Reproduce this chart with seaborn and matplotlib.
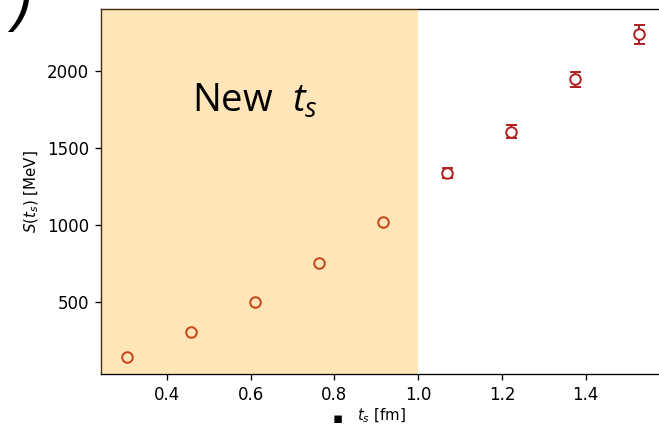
import matplotlib
matplotlib.use("Agg")
import matplotlib.pyplot as plt
import seaborn as sns
import numpy as np
import pandas as pd

# Source-time separations (fm) and the corresponding summed correlator values
ts_fm = [0.305, 0.458, 0.611, 0.764, 0.917, 1.069, 1.222, 1.375, 1.528]
S_mev = [143, 305, 500, 753, 1022, 1338, 1606, 1946, 2238]
S_err = [4, 5, 6, 8, 10, 34, 43, 50, 60]

x_ticks = [0.4, 0.6, 0.8, 1.0, 1.2, 1.4]
y_ticks = [500, 1000, 1500, 2000]
new_region_end = 1.0

sns.set_style("ticks", rc={
    "axes.edgecolor": "black",
    "xtick.color": "black",
    "ytick.color": "black",
    "text.color": "black",
    "axes.labelcolor": "black",
})
plt.rcParams["font.family"] = ["DejaVu Sans"]
plt.rcParams["mathtext.fontset"] = "dejavusans"
plt.rcParams["mathtext.it"] = "Open Sans:italic"
plt.rcParams["mathtext.rm"] = "Open Sans"

df = pd.DataFrame({"ts": ts_fm, "S": S_mev, "err": S_err})

fig = plt.figure(figsize=(659 / 120, 426 / 120), dpi=120)
ax = fig.add_axes([101 / 659, 52 / 426, 561 / 659, 365 / 426])

ax.errorbar(df["ts"], df["S"], yerr=df["err"], fmt="none",
            ecolor="#b22222", elinewidth=1.2, capsize=3.3, capthick=1.2, zorder=2)
sns.scatterplot(data=df, x="ts", y="S", ax=ax, marker="o", s=40,
                facecolor="white", edgecolor="#b22222", linewidth=1.2,
                zorder=3, legend=False)

ax.set_xlim(0.243, 1.582)
ax.set_ylim(32, 2403)
ax.set_xticks(x_ticks)
ax.set_yticks(y_ticks)
ax.tick_params(labelsize=10, length=3.5, width=0.8)
for sp in ax.spines.values():
    sp.set_linewidth(0.8)

ax.set_xlabel(r"$t_s$ [fm]", fontsize=9, labelpad=2)
ax.set_ylabel(r"$S(t_s)$ [MeV]", fontsize=9)

# highlighted range of newly added separations, drawn over everything else
ax.axvspan(ax.get_xlim()[0], new_region_end, color="orange", alpha=0.28,
           lw=0, zorder=10)
ax.text(0.460, 1734, r"New  $t_s$", fontsize=23, family="Open Sans",
        math_fontfamily="custom", ha="left", va="baseline", zorder=11)

fig.text(12 / 659, 1 - 37 / 426, ")", fontsize=40, family="Open Sans",
         style="italic", ha="left", va="bottom")
fig.text(338 / 659, 0, "\u25aa", fontsize=9, ha="center", va="bottom")

fig.savefig("out.png", dpi=120)
